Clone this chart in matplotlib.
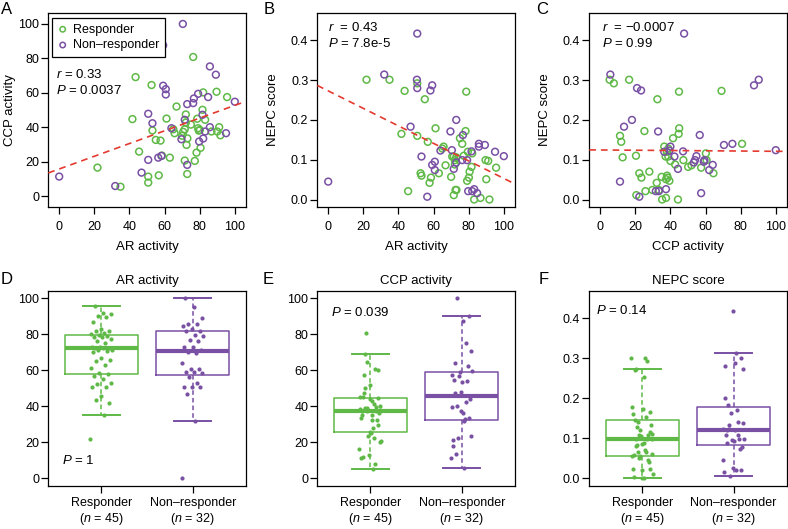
import numpy as np
import matplotlib
matplotlib.use("Agg")
import matplotlib.pyplot as plt
from matplotlib.ticker import FormatStrFormatter


GREEN = "#5fb947"
PURPLE = "#7950a4"
RED = "#e43a2f"

plt.rcParams["font.family"] = ["Liberation Sans", "DejaVu Sans"]
plt.rcParams["font.size"] = 9
plt.rcParams["mathtext.fontset"] = "custom"
plt.rcParams["mathtext.rm"] = "Liberation Sans"
plt.rcParams["mathtext.it"] = "Liberation Sans:italic"
plt.rcParams["axes.linewidth"] = 0.9

# Per patient values, responders (n = 45)
resp_ar = [21.8, 34.9, 43.5, 41.7, 45.5, 50.7, 50.7, 52.6, 53.1, 55.0,
           56.7, 57.7, 58.5, 61.1, 63.0, 65.0, 65.7, 66.8, 70.0, 70.6,
           71.5, 71.5, 72.1, 72.1, 72.5, 72.9, 73.0, 75.0, 76.3, 77.2,
           78.2, 78.6, 79.1, 79.5, 80.1, 80.5, 81.6, 82.0, 83.1, 86.7,
           89.6, 90.0, 91.1, 91.8, 95.6]
resp_ccp = [16.5, 5.4, 69.1, 44.7, 25.8, 11.3, 7.8, 64.5, 38.1, 32.6,
            12.0, 32.2, 23.5, 45.0, 22.3, 38.8, 36.5, 52.0, 35.0, 37.3,
            38.8, 20.6, 42.7, 47.4, 29.7, 12.8, 33.5, 41.5, 80.8, 20.4,
            25.2, 44.9, 39.4, 38.0, 38.4, 28.0, 50.1, 60.2, 44.3, 37.5,
            60.6, 37.5, 40.0, 35.3, 57.5]
resp_nepc = [0.301, 0.301, 0.273, 0.165, 0.021, 0.160, 0.292, 0.066, 0.060, 0.252,
             0.145, 0.042, 0.055, 0.179, 0.066, 0.128, 0.133, 0.086, 0.057, 0.108,
             0.108, 0.011, 0.088, 0.099, 0.024, 0.106, 0.024, 0.154, 0.140, 0.110,
             0.172, 0.271, 0.047, 0.120, 0.055, 0.070, 0.082, 0.116, 0.000, 0.004,
             0.099, 0.051, 0.097, 0.000, 0.080]

# Per patient values, non-responders (n = 32)
nonr_ar = [0.0, 31.9, 46.9, 50.5, 50.7, 50.7, 53.1, 56.4, 58.2, 59.2,
           59.2, 60.7, 60.7, 63.9, 69.6, 70.4, 71.5, 72.9, 72.9, 76.3,
           76.7, 79.1, 79.7, 81.6, 82.0, 83.1, 84.8, 85.8, 85.8, 89.2,
           95.0, 100.0]
nonr_ccp = [11.3, 5.8, 13.6, 90.3, 47.8, 21.0, 42.3, 22.3, 23.3, 87.6,
            64.1, 62.1, 59.0, 39.4, 33.0, 100.0, 44.3, 53.4, 18.1, 54.0,
            56.7, 59.4, 31.7, 47.2, 33.4, 37.5, 57.5, 75.3, 40.0, 70.5,
            36.5, 54.8]
nonr_nepc = [0.045, 0.314, 0.183, 0.301, 0.417, 0.280, 0.108, 0.007, 0.274, 0.287,
             0.087, 0.074, 0.095, 0.123, 0.171, 0.124, 0.077, 0.093, 0.200, 0.099,
             0.162, 0.099, 0.021, 0.121, 0.021, 0.026, 0.016, 0.140, 0.133, 0.137,
             0.120, 0.109]

group_labels = ["Responder\n($n$ = 45)", "Non\u2013responder\n($n$ = 32)"]
score_ticks = [0.0, 0.1, 0.2, 0.3, 0.4]
activity_ticks = [0, 20, 40, 60, 80, 100]

ACT_LIM = (-6.2, 106.2)
SCORE_LIM = (-0.018, 0.468)


def tukey_stats(values):
    """Box statistics the way R's boxplot computes them (Tukey hinges)."""
    v = np.sort(np.asarray(values, dtype=float))
    n = len(v)
    med = np.median(v)
    half = (n + 1) // 2
    q1 = np.median(v[:half])
    q3 = np.median(v[n - half:])
    iqr = q3 - q1
    inside = v[(v >= q1 - 1.5 * iqr) & (v <= q3 + 1.5 * iqr)]
    return {"med": med, "q1": q1, "q3": q3,
            "whislo": inside.min(), "whishi": inside.max(), "fliers": []}


def style_axis(ax):
    """R-like outward ticks and horizontal tick labels."""
    ax.tick_params(direction="out", length=5, width=0.9, labelsize=9)
    ax.tick_params(axis="y", pad=1.5)


def scatter_panel(ax, x_r, y_r, x_n, y_n, ylim, xlabel, ylabel, label_x,
                  stats, text_x, text_y):
    """Open-circle scatter with a least-squares dashed line."""
    ax.scatter(x_r, y_r, s=24, facecolors="none", edgecolors=GREEN,
               linewidths=1.1, label="Responder", zorder=2)
    ax.scatter(x_n, y_n, s=24, facecolors="none", edgecolors=PURPLE,
               linewidths=1.1, label="Non\u2013responder", zorder=2)

    x_all = np.concatenate([x_r, x_n])
    y_all = np.concatenate([y_r, y_n])
    slope, icpt = np.polyfit(x_all, y_all, 1)
    xs = np.array(ACT_LIM)
    ax.plot(xs, icpt + slope * xs, color=RED, ls=(0, (4, 3)), lw=1.2, zorder=3)

    ax.set_xlim(*ACT_LIM)
    ax.set_ylim(*ylim)
    ax.set_xticks(activity_ticks)
    ax.set_xlabel(xlabel, fontsize=9.5, labelpad=6)
    ax.set_ylabel(ylabel, fontsize=9.5)
    ax.yaxis.set_label_coords(label_x, 0.5)
    ax.yaxis.label.set_verticalalignment("center")
    ax.tick_params(axis="x", pad=5)
    for line, y in zip(stats, text_y):
        ax.text(text_x, y, line, transform=ax.transAxes, fontsize=9.5, va="center")


def box_panel(ax, resp, nonr, title, ylim, yticks, p_text, p_xy):
    """Boxplot with jittered points, as in R boxplot + stripchart."""
    bp = ax.bxp([tukey_stats(resp), tukey_stats(nonr)], positions=[1, 2],
                widths=0.8, showfliers=False, manage_ticks=False)
    for i, c in enumerate([GREEN, PURPLE]):
        bp["boxes"][i].set(color=c, lw=1.1)
        bp["medians"][i].set(color=c, lw=3, solid_capstyle="butt")
        for w in bp["whiskers"][2 * i:2 * i + 2]:
            w.set(color=c, lw=1.1, ls=(0, (3, 2)))
        for cap in bp["caps"][2 * i:2 * i + 2]:
            cap.set(color=c, lw=1.4)

    for i, (vals, c) in enumerate([(resp, GREEN), (nonr, PURPLE)]):
        n = len(vals)
        offsets = ((np.arange(n) * 0.618034) % 1 - 0.5) * 0.24
        ax.scatter(i + 1 + offsets, vals, s=9, color=c, lw=0, zorder=4)

    ax.set_xlim(0.42, 2.58)
    ax.set_ylim(*ylim)
    ax.set_yticks(yticks)
    ax.set_xticks([1, 2])
    ax.set_xticklabels(group_labels, linespacing=1.25)
    ax.tick_params(axis="x", pad=3)
    ax.set_title(title, fontsize=9.5, pad=5)
    ax.text(p_xy[0], p_xy[1], p_text, transform=ax.transAxes, fontsize=9.5, va="center")


fig = plt.figure(figsize=(7.88, 5.29), dpi=100)

top_b, top_h = 0.6093, 0.3656
bot_b, bot_h = 0.0822, 0.3677
lefts = [0.0613, 0.4027, 0.7478]
width = 0.2505

ax_a = fig.add_axes([lefts[0], top_b, width, top_h])
ax_b = fig.add_axes([lefts[1], top_b, width, top_h])
ax_c = fig.add_axes([lefts[2], top_b, width, top_h])
ax_d = fig.add_axes([lefts[0], bot_b, width, bot_h])
ax_e = fig.add_axes([lefts[1], bot_b, width, bot_h])
ax_f = fig.add_axes([lefts[2], bot_b, width, bot_h])

for ax in [ax_a, ax_b, ax_c, ax_d, ax_e, ax_f]:
    style_axis(ax)

scatter_panel(ax_a, resp_ar, resp_ccp, nonr_ar, nonr_ccp, ACT_LIM,
              "AR activity", "CCP activity", -0.194,
              ["$r$ = 0.33", "$P$ = 0.0037"], 0.04, [0.681, 0.603])
ax_a.set_yticks(activity_ticks)
leg = ax_a.legend(loc="upper left", bbox_to_anchor=(0.019, 0.976),
                  borderaxespad=0, fancybox=False, framealpha=1,
                  edgecolor="black", fontsize=9, handlelength=0.8,
                  handletextpad=0.4, borderpad=0.45, labelspacing=0.3,
                  markerscale=0.8)
leg.get_frame().set_linewidth(0.9)

scatter_panel(ax_b, resp_ar, resp_nepc, nonr_ar, nonr_nepc, SCORE_LIM,
              "AR activity", "NEPC score", -0.226,
              ["$r$  = 0.43", "$P$ = 7.8e-5"], 0.054, [0.929, 0.846])
ax_b.set_yticks(score_ticks)
ax_b.yaxis.set_major_formatter(FormatStrFormatter("%.1f"))

scatter_panel(ax_c, resp_ccp, resp_nepc, nonr_ccp, nonr_nepc, SCORE_LIM,
              "CCP activity", "NEPC score", -0.225,
              ["$r$  = \u22120.0007", "$P$ = 0.99"], 0.064, [0.929, 0.846])
ax_c.set_yticks(score_ticks)
ax_c.yaxis.set_major_formatter(FormatStrFormatter("%.1f"))

box_panel(ax_d, resp_ar, nonr_ar, "AR activity", (-4, 104), activity_ticks,
          "$P$ = 1", (0.07, 0.131))
box_panel(ax_e, resp_ccp, nonr_ccp, "CCP activity", (-4, 104), activity_ticks,
          "$P$ = 0.039", (0.07, 0.892))
box_panel(ax_f, resp_nepc, nonr_nepc, "NEPC score", SCORE_LIM, score_ticks,
          "$P$ = 0.14", (0.036, 0.90))
ax_f.yaxis.set_major_formatter(FormatStrFormatter("%.1f"))

# panel letters
for letter, x, y in [("A", 7, 9), ("B", 269, 9), ("C", 542, 9),
                     ("D", 7, 280), ("E", 268, 280), ("F", 544, 280)]:
    fig.text(x / 788, 1 - y / 529, letter, fontsize=12, ha="center", va="center")

fig.savefig("out.png", dpi=100)
